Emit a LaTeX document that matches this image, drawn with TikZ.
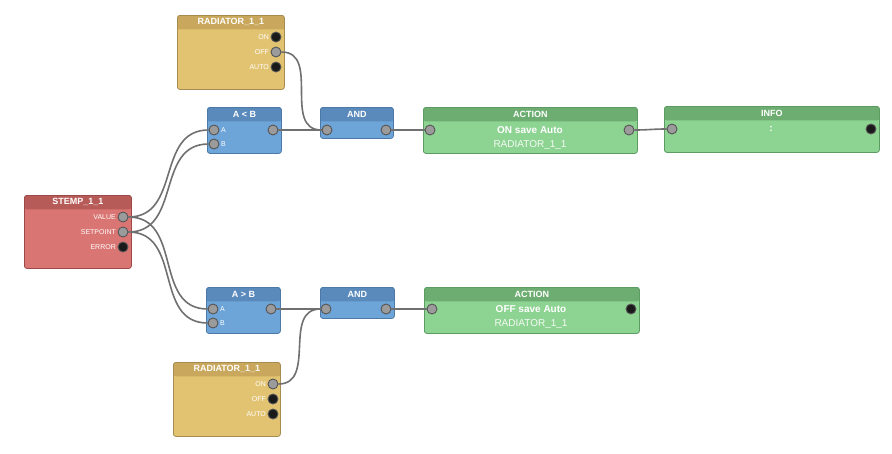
\documentclass[tikz,border=0pt]{standalone}
\usepackage{fontspec}
\setmainfont{Liberation Sans}
\usetikzlibrary{positioning}
\definecolor{radbody}{HTML}{E1C372}
\definecolor{radhead}{HTML}{C9A75C}
\definecolor{radline}{HTML}{A68C50}
\definecolor{tmpbody}{HTML}{D97572}
\definecolor{tmphead}{HTML}{B75B59}
\definecolor{tmpline}{HTML}{9C4947}
\definecolor{cmpbody}{HTML}{6EA5D9}
\definecolor{cmphead}{HTML}{5A89BC}
\definecolor{cmpline}{HTML}{4C79A6}
\definecolor{actbody}{HTML}{8DD392}
\definecolor{acthead}{HTML}{6DAD71}
\definecolor{actline}{HTML}{5C9B61}
\definecolor{portgrey}{HTML}{9B9B9B}
\definecolor{portline}{HTML}{555555}
\definecolor{portblack}{HTML}{1A1A1A}
\definecolor{wiregrey}{HTML}{707070}

\begin{document}
\begin{tikzpicture}[x=1pt, y=-1pt,
  blk/.style={draw, rounded corners=2.5pt, line width=0.8pt, inner sep=0pt, anchor=north west},
  hdr/.style={path picture={\fill[#1] (path picture bounding box.north west) rectangle ([yshift=-14pt]path picture bounding box.north east);}},
  radbox/.style={blk, draw=radline, fill=radbody, hdr=radhead},
  tmpbox/.style={blk, draw=tmpline, fill=tmpbody, hdr=tmphead},
  cmpbox/.style={blk, draw=cmpline, fill=cmpbody, hdr=cmphead},
  actbox/.style={blk, draw=actline, fill=actbody, hdr=acthead},
  ttl/.style={anchor=north, minimum height=14pt, inner sep=0pt, text=white, font=\fontsize{9}{10}\selectfont\bfseries},
  port/.style={circle, draw=portline, fill=portgrey, line width=0.9pt, minimum size=10pt, inner sep=0pt},
  dead/.style={port, fill=portblack},
  plab/.style={text=white, font=\fontsize{7}{8}\selectfont, inner sep=0pt},
  cmd/.style={text=white, font=\fontsize{10}{12}\selectfont\bfseries, inner sep=0pt},
  dev/.style={text=white!92!actbody, font=\fontsize{10}{12}\selectfont, inner sep=0pt},
  wire/.style={draw=wiregrey, line width=1.6pt, looseness=1.15}
]
\useasboundingbox (0,0) rectangle (892,453);

% blocks
\node[radbox, minimum width=107pt, minimum height=74pt] (rad1) at (177,15) {};
\node[ttl] at (rad1.north) {RADIATOR\_1\_1};
\node[tmpbox, minimum width=107pt, minimum height=73pt] (stemp) at (24,195) {};
\node[ttl] at (stemp.north) {STEMP\_1\_1};
\node[cmpbox, minimum width=74pt, minimum height=46pt] (lt) at (207,107) {};
\node[ttl] at (lt.north) {A < B};
\node[cmpbox, minimum width=73pt, minimum height=31pt] (and1) at (320,107) {};
\node[ttl] at (and1.north) {AND};
\node[actbox, minimum width=214pt, minimum height=46pt] (act1) at (423,107) {};
\node[ttl] at (act1.north) {ACTION};
\node[actbox, minimum width=215pt, minimum height=46pt] (info) at (664,106) {};
\node[ttl] at (info.north) {INFO};
\node[cmpbox, minimum width=74pt, minimum height=46pt] (gt) at (206,287) {};
\node[ttl] at (gt.north) {A > B};
\node[cmpbox, minimum width=74pt, minimum height=31pt] (and2) at (320,287) {};
\node[ttl] at (and2.north) {AND};
\node[actbox, minimum width=215pt, minimum height=46pt] (act2) at (424,287) {};
\node[ttl] at (act2.north) {ACTION};
\node[radbox, minimum width=107pt, minimum height=74pt] (rad2) at (173,362) {};
\node[ttl] at (rad2.north) {RADIATOR\_1\_1};

% ports
\node[dead] (r1on) at (276,37) {};
\node[port] (r1off) at (276,52) {};
\node[dead] (r1auto) at (276,67) {};
\node[plab, left=1.5pt of r1on] {ON};
\node[plab, left=1.5pt of r1off] {OFF};
\node[plab, left=1.5pt of r1auto] {AUTO};

\node[port] (value) at (123,217) {};
\node[port] (setpt) at (123,232) {};
\node[dead] (error) at (123,247) {};
\node[plab, left=1.5pt of value] {VALUE};
\node[plab, left=1.5pt of setpt] {SETPOINT};
\node[plab, left=1.5pt of error] {ERROR};

\node[port] (lta) at (214,130) {};
\node[port] (ltb) at (214,144) {};
\node[port] (ltout) at (273,130) {};
\node[plab, right=1.5pt of lta] {A};
\node[plab, right=1.5pt of ltb] {B};

\node[port] (and1in) at (327,130) {};
\node[port] (and1out) at (386,130) {};

\node[port] (act1in) at (430,130) {};
\node[port] (act1out) at (629,130) {};
\node[cmd] at (530,130) {ON save Auto};
\node[dev] at (530,145) {RADIATOR\_1\_1};

\node[port] (infoin) at (672,129) {};
\node[dead] (infoout) at (871,129) {};
\node[cmd] at (771,129) {:};

\node[port] (gta) at (213,309) {};
\node[port] (gtb) at (213,323) {};
\node[port] (gtout) at (271,309) {};
\node[plab, right=1.5pt of gta] {A};
\node[plab, right=1.5pt of gtb] {B};

\node[port] (and2in) at (326,309) {};
\node[port] (and2out) at (386,309) {};

\node[port] (act2in) at (432,309) {};
\node[dead] (act2out) at (631,309) {};
\node[cmd] at (531,309) {OFF save Auto};
\node[dev] at (531,324) {RADIATOR\_1\_1};

\node[port] (r2on) at (273,384) {};
\node[dead] (r2off) at (273,399) {};
\node[dead] (r2auto) at (273,414) {};
\node[plab, left=1.5pt of r2on] {ON};
\node[plab, left=1.5pt of r2off] {OFF};
\node[plab, left=1.5pt of r2auto] {AUTO};

% wires
\draw[wire] (r1off) to[out=0, in=180] (and1in);
\draw[wire] (ltout) to[out=0, in=180] (and1in);
\draw[wire] (and1out) to[out=0, in=180] (act1in);
\draw[wire] (act1out) to[out=0, in=180] (infoin);
\draw[wire] (value) to[out=0, in=180] (lta);
\draw[wire] (setpt) to[out=0, in=180] (ltb);
\draw[wire] (value) to[out=0, in=180] (gta);
\draw[wire] (setpt) to[out=0, in=180] (gtb);
\draw[wire] (gtout) to[out=0, in=180] (and2in);
\draw[wire] (r2on) to[out=0, in=180] (and2in);
\draw[wire] (and2out) to[out=0, in=180] (act2in);

\end{tikzpicture}
\end{document}
